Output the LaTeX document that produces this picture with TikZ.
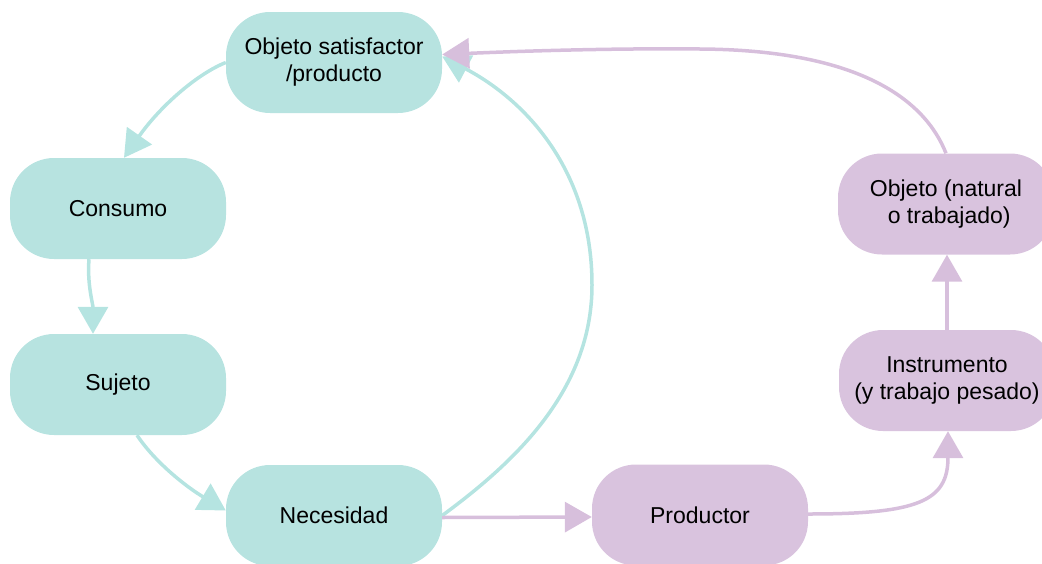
\documentclass[tikz,border=0pt]{standalone}
\usepackage{fontspec}
\setmainfont{Liberation Sans}
\usetikzlibrary{arrows.meta}
\definecolor{tealfill}{RGB}{183,227,224}
\definecolor{lilacfill}{RGB}{217,195,222}
\definecolor{tealline}{RGB}{181,228,225}
\definecolor{lilacline}{RGB}{215,191,220}
\tikzset{
  pill/.style={rectangle, rounded corners=44pt, minimum width=216pt,
    minimum height=101pt, inner sep=0pt, align=center,
    font=\fontsize{23}{27}\selectfont},
  tealbox/.style={pill, fill=tealfill},
  lilacbox/.style={pill, fill=lilacfill},
  link/.style={line width=3.5pt,
    -{Triangle[length=27pt,width=30pt]}},
  teallink/.style={link, draw=tealline},
  lilaclink/.style={link, draw=lilacline}
}
\begin{document}
\begin{tikzpicture}[x=1pt,y=-1pt]
  \useasboundingbox (0,0) rectangle (1042,563);
  \clip (0,0) rectangle (1042,563);

  % consumption cycle
  \node[tealbox] (sat)  at (334,62.5)  {Objeto satisfactor\\/producto};
  \node[tealbox] (cons) at (118,208.5) {Consumo};
  \node[tealbox] (suj)  at (118,384.5) {Sujeto};
  \node[tealbox] (nec)  at (334,515.5) {Necesidad};

  % production chain
  \node[lilacbox] (prod)  at (700,515)   {Productor};
  \node[lilacbox] (instr) at (947,380.5) {Instrumento\\(y trabajo pesado)};
  \node[lilacbox] (obj)   at (946,204)   {Objeto (natural\\\ o trabajado)};

  % teal connectors
  \draw[teallink] (sat.west) .. controls +(-30,12) and +(35,-50) .. ([xshift=6pt]cons.north);
  \draw[teallink] ([xshift=-29pt]cons.south) .. controls +(-2,25) and +(0,-30) .. ([xshift=-25pt]suj.north);
  \draw[teallink] ([xshift=19pt]suj.south) .. controls +(18,27) and +(-40,-24) .. ([yshift=5pt]nec.west);
  \draw[teallink] (nec.east) .. controls (515,462) and (592,390) .. (592,285)
                            .. controls (592,170) and (525,100) .. ([yshift=6pt]sat.east);

  % lilac connectors
  \draw[lilaclink] ([yshift=-2pt]nec.east) -- ([yshift=-2pt]prod.west);
  \draw[lilaclink] ([yshift=1pt]prod.east) .. controls +(110,0) and +(0,70) .. ([xshift=1pt]instr.south);
  \draw[lilaclink] (instr.north) -- (instr.north |- obj.south);
  \draw[lilaclink] (obj.north) .. controls (925,100) and (860,50) .. (700,49)
                               .. controls (600,48) and (500,52) .. ([yshift=8pt]sat.east);
\end{tikzpicture}
\end{document}
